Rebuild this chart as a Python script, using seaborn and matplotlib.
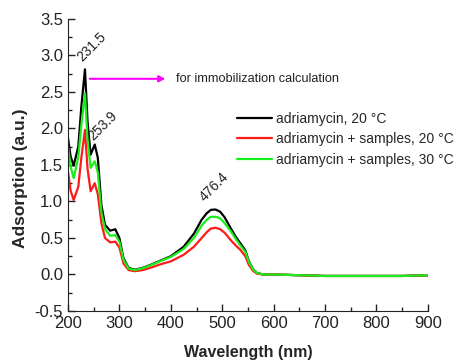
import pandas as pd
import matplotlib
matplotlib.use("Agg")
import matplotlib.pyplot as plt
import seaborn as sns

# wavelength grid (nm) and absorbance of the three spectra
wavelength = [200, 205, 211, 220, 226, 233, 238, 244, 252, 258, 265, 272, 282, 292,
              300, 308, 318, 330, 345, 360, 380, 400, 425, 445, 460, 470, 478, 487,
              496, 505, 516, 526, 535, 545, 552, 560, 568, 580, 600, 650, 700, 750,
              800, 850, 900]
adr_20 = [1.87, 1.62, 1.49, 1.75, 2.30, 2.81, 2.10, 1.64, 1.78, 1.60, 0.95, 0.68, 0.60, 0.62,
          0.50, 0.22, 0.09, 0.065, 0.09, 0.13, 0.19, 0.25, 0.38, 0.56, 0.75, 0.84, 0.885, 0.89,
          0.86, 0.78, 0.64, 0.52, 0.43, 0.33, 0.18, 0.07, 0.02, 0.0, 0.0, -0.01, -0.02, -0.02,
          -0.02, -0.02, -0.01]
adr_samp_20 = [1.41, 1.15, 1.02, 1.20, 1.60, 1.98, 1.45, 1.14, 1.25, 1.10, 0.70, 0.50, 0.44, 0.45,
               0.37, 0.15, 0.06, 0.045, 0.06, 0.09, 0.14, 0.18, 0.27, 0.38, 0.50, 0.58, 0.63, 0.64,
               0.62, 0.57, 0.475, 0.40, 0.34, 0.25, 0.13, 0.05, 0.01, 0.0, 0.0, -0.01, -0.02, -0.02,
               -0.02, -0.02, -0.01]
adr_samp_30 = [1.75, 1.48, 1.32, 1.60, 2.05, 2.48, 1.85, 1.46, 1.55, 1.40, 0.85, 0.62, 0.53, 0.54,
               0.45, 0.20, 0.08, 0.06, 0.085, 0.125, 0.185, 0.24, 0.35, 0.50, 0.67, 0.75, 0.79, 0.79,
               0.77, 0.70, 0.60, 0.49, 0.40, 0.31, 0.17, 0.07, 0.02, 0.0, 0.0, -0.01, -0.02, -0.02,
               -0.02, -0.02, -0.01]

labels = ["adriamycin, 20 °C", "adriamycin + samples, 20 °C", "adriamycin + samples, 30 °C"]
colors = ["black", "#ff1a1a", "#1aee1a"]

peak_pos = [231.5, 253.9, 476.4]
peak_xy = [(232, 2.88), (254, 1.80), (470, 0.97)]

df = pd.concat([
    pd.DataFrame({"Wavelength": wavelength, "Abs": vals, "Sample": lab})
    for vals, lab in zip([adr_20, adr_samp_20, adr_samp_30], labels)
])

sns.set_style("ticks")
plt.rcParams["font.family"] = ["Liberation Sans", "DejaVu Sans"]
plt.rcParams["axes.unicode_minus"] = False

fig = plt.figure(figsize=(4.61, 3.64), dpi=100)
ax = fig.add_axes([0.1475, 0.1456, 0.7805, 0.8024])

sns.lineplot(data=df, x="Wavelength", y="Abs", hue="Sample", hue_order=labels,
             palette=colors, linewidth=1.6, ax=ax, sort=False)

# peak labels
for p, (x, y) in zip(peak_pos, peak_xy):
    ax.text(x, y, f"{p}", rotation=45, rotation_mode="anchor", ha="left", va="bottom",
            fontsize=10, color="#222222")

ax.annotate("", xy=(395, 2.68), xytext=(237, 2.68),
            arrowprops=dict(arrowstyle="-|>", color="magenta", lw=1.5, mutation_scale=9))
ax.text(410, 2.68, "for immobilization calculation", fontsize=9.2, va="center", color="#222222")

ax.set_xlim(200, 900)
ax.set_ylim(-0.5, 3.5)
ax.set_xticks(range(200, 901, 100))
ax.set_yticks([-0.5, 0.0, 0.5, 1.0, 1.5, 2.0, 2.5, 3.0, 3.5])
ax.set_xticks(range(250, 900, 100), minor=True)
ax.set_yticks([-0.25, 0.25, 0.75, 1.25, 1.75, 2.25, 2.75, 3.25], minor=True)
ax.tick_params(which="major", direction="in", length=5, width=1, labelsize=12, colors="#222222")
ax.tick_params(which="minor", direction="in", length=3, width=1)
sns.despine(ax=ax)
for s in ["left", "bottom"]:
    ax.spines[s].set_color("#222222")

ax.set_xlabel("Wavelength (nm)", fontsize=11.5, fontweight="bold", labelpad=10)
ax.set_ylabel("Adsorption (a.u.)", fontsize=12.5, fontweight="bold")
ax.yaxis.set_label_coords(-0.112, 0.455)

ax.legend(loc="upper left", bbox_to_anchor=(0.455, 0.70), frameon=False, fontsize=10,
          handlelength=2.5, handletextpad=0.3, labelspacing=0.45, borderaxespad=0)

fig.savefig("out.png", dpi=100)
